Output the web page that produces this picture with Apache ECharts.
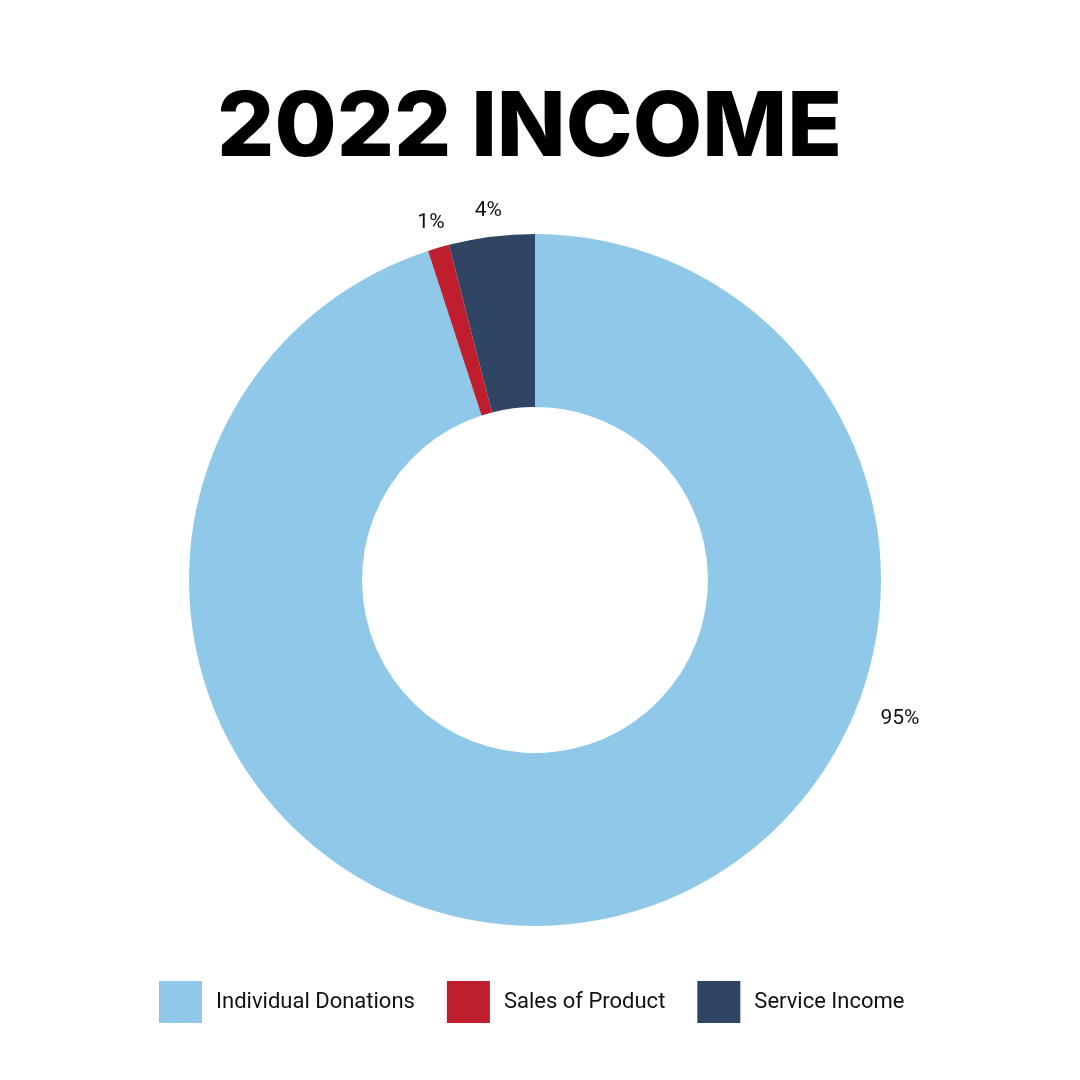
<!DOCTYPE html>
<html><head><meta charset="utf-8">
<script src="https://cdn.jsdelivr.net/npm/echarts@6/dist/echarts.min.js"></script>
<style>html,body{margin:0;padding:0;background:#fff}#c{width:1080px;height:1080px}</style>
</head><body><div id="c"></div>
<script>
const categories = ['Individual Donations', 'Sales of Product', 'Service Income'];
const values = [95, 1, 4];
const colors = ['#8FC8E8', '#BE1E2D', '#304563'];
const titleText = '2022 INCOME';

const CX = 535, CY = 580, R_IN = 173, R_OUT = 346, LABEL_R = 373;
const total = values.reduce((a, b) => a + b, 0);

const chart = echarts.init(document.getElementById('c'), null, {renderer: 'canvas'});
chart.setOption({
  backgroundColor: '#ffffff',
  animation: false,
  title: {
    text: titleText,
    left: 212,
    top: 79,
    textStyle: {fontFamily: 'Inter', fontWeight: 800, fontSize: 90, color: '#000'}
  },
  legend: {
    bottom: 52,
    left: 154,
    itemWidth: 43,
    itemHeight: 42,
    itemGap: 32,
    icon: 'rect',
    textStyle: {fontFamily: 'Roboto', fontSize: 22, color: '#111', padding: [0, 0, 0, 9]},
    data: categories
  },
  series: [{
    type: 'pie',
    center: [CX, CY],
    radius: [R_IN, R_OUT],
    startAngle: 90,
    clockwise: true,
    color: colors,
    label: {
      show: true,
      position: 'outside',
      formatter: '{d}%',
      fontFamily: 'Roboto',
      fontSize: 21,
      color: '#111'
    },
    percentPrecision: 0,
    labelLine: {show: false, length: 14, length2: 0},
    labelLayout: function (p) {
      if (p.dataIndex === 0) return {x: 900, y: 719, align: 'center', verticalAlign: 'middle'};
      let before = 0;
      for (let i = 0; i < p.dataIndex; i++) before += values[i];
      const mid = (before + values[p.dataIndex] / 2) / total * Math.PI * 2;
      return {x: CX + LABEL_R * Math.sin(mid), y: CY - LABEL_R * Math.cos(mid) + 1, align: 'center', verticalAlign: 'middle'};
    },
    data: categories.map((n, i) => ({name: n, value: values[i]}))
  }]
});
</script></body></html>
